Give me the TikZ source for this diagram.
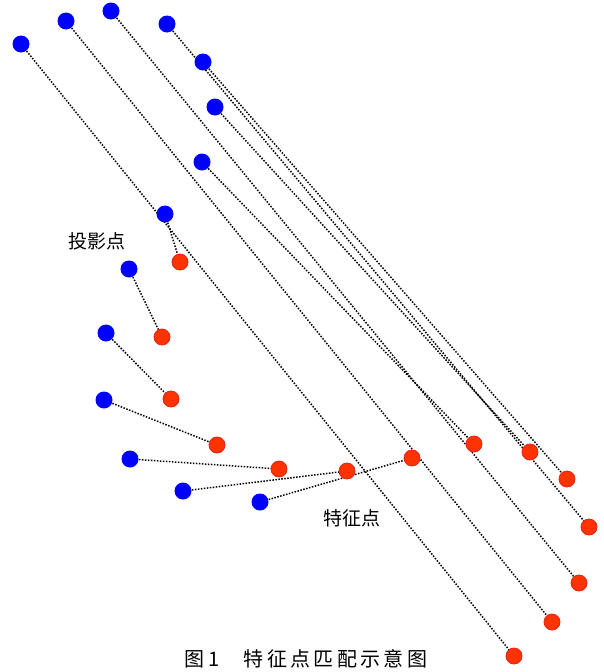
\documentclass[tikz,border=0pt]{standalone}
\usepackage{fontspec}
\newfontfamily\cjk{Noto Sans CJK SC}
\usetikzlibrary{positioning}
\definecolor{projBlue}{HTML}{0000FF}
\definecolor{featRed}{HTML}{FF3300}
\definecolor{featEdge}{HTML}{E42418}
\pgfdeclarelayer{bg}
\pgfsetlayers{bg,main}

\begin{document}
\begin{tikzpicture}[x=1pt, y=-1pt,
    proj/.style={circle, fill=projBlue, minimum size=17pt, inner sep=0pt},
    feat/.style={circle, fill=featRed, draw=featEdge, line width=0.8pt, minimum size=16pt, inner sep=0pt},
    match/.style={black, line width=1.5pt, dash pattern=on 1.5pt off 1.5pt},
    lbl/.style={font=\cjk\fontsize{19}{22}\selectfont, inner sep=0pt}]
  \useasboundingbox (0,0) rectangle (604,672);
  % Puntos de proyeccion (azul)
  \foreach \n/\x/\y in {1/21/44, 2/66/21, 3/111/11, 4/167/24, 5/203/62,
      6/215/107, 7/202/162, 8/165/214, 9/129/269, 10/106/333,
      11/104/400, 12/130/459, 13/183/491, 14/260/502} {
    \node[proj] (p\n) at (\x,\y) {};
  }
  % Puntos caracteristicos (rojo)
  \foreach \n/\x/\y in {1/180/262, 2/162/337, 3/171/399, 4/217/445, 5/279/469,
      6/347/471, 7/412/458, 8/474/444, 9/530/452, 10/567/479,
      11/589/527, 12/579/583, 13/552/622, 14/514/656} {
    \node[feat] (f\n) at (\x,\y) {};
  }
  % Correspondencias
  \begin{pgfonlayer}{bg}
    \foreach \a/\b in {1/14, 2/13, 3/12, 4/11, 5/10, 6/9, 7/8,
        8/1, 9/2, 10/3, 11/4, 12/5, 13/6, 14/7} {
      \draw[match] (p\a.center) -- (f\b.center);
    }
  \end{pgfonlayer}
  % Etiquetas
  \node[lbl] (lblproj) at (97,241) {投影点};
  \node[lbl] (lblfeat) at (352,518) {特征点};
  \node[lbl, font=\cjk\fontsize{20}{24}\selectfont] (caption) at (306,659)
    {图\,1\quad\ 特\,征\,点\,匹\,配\,示\,意\,图};
\end{tikzpicture}
\end{document}
